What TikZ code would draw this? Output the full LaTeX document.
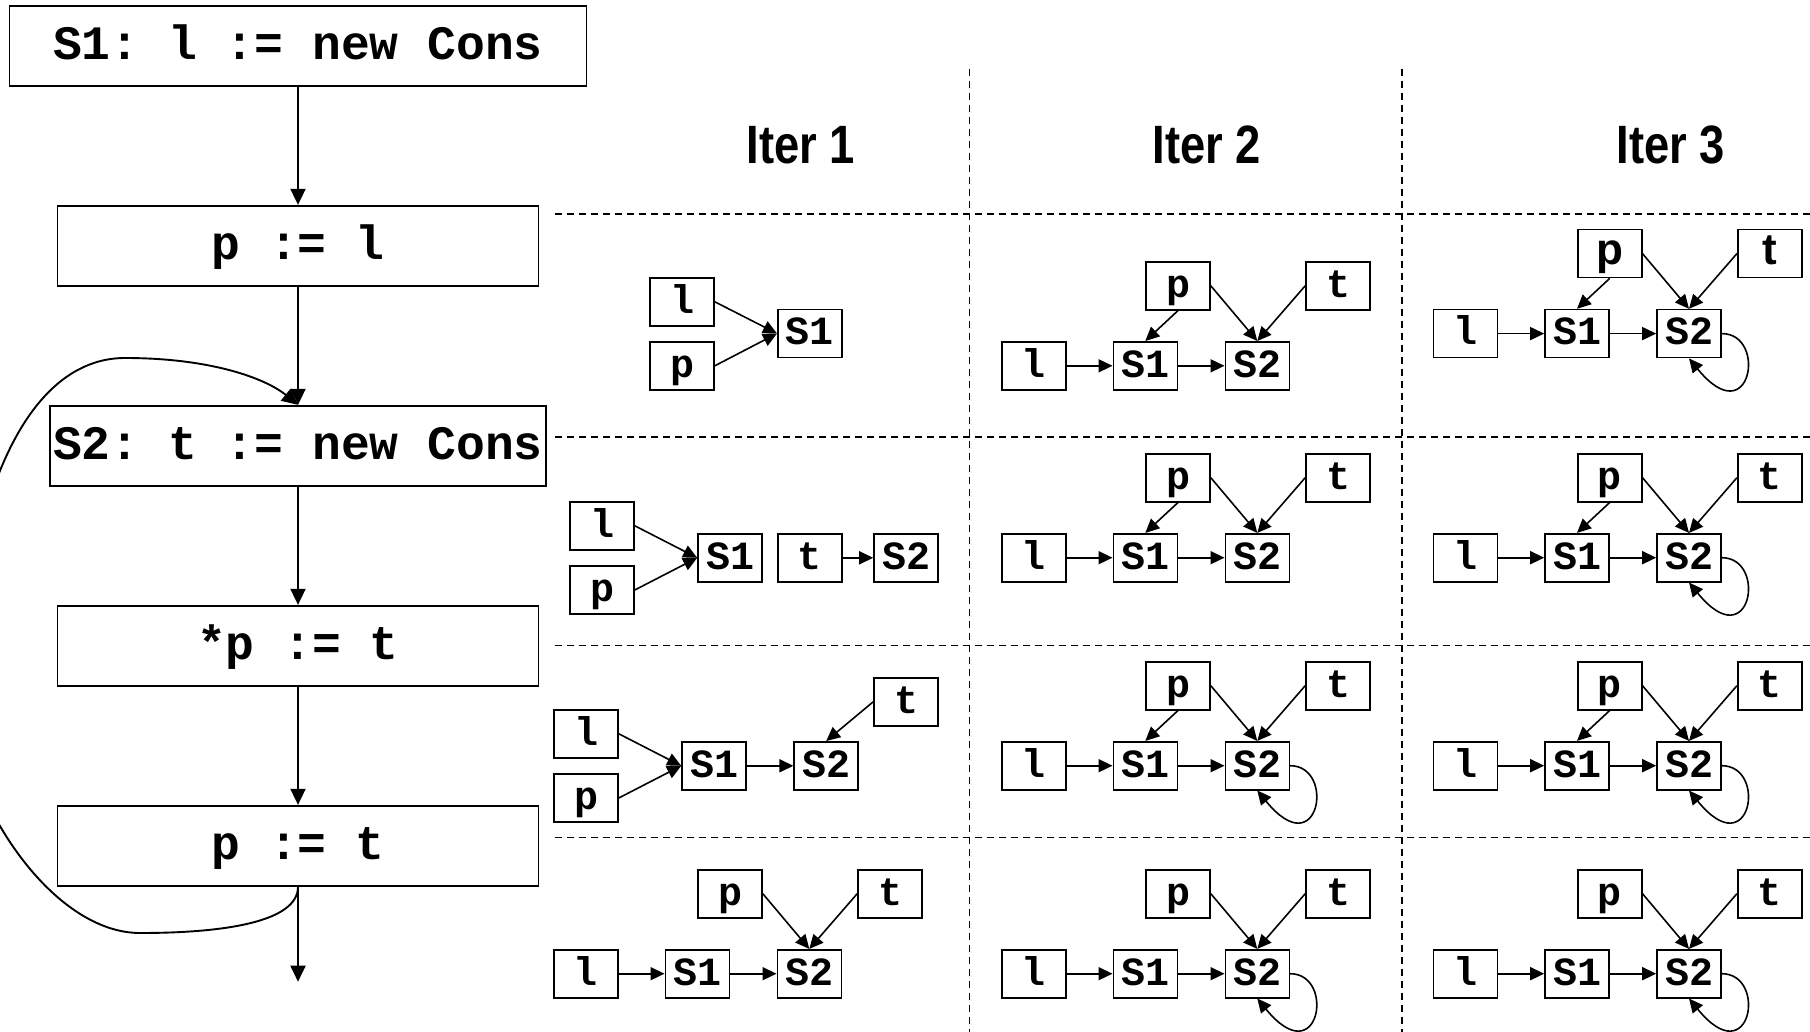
\documentclass[tikz,border=0pt]{standalone}
\usepackage{fontspec}
\setmonofont{Liberation Mono}
\newfontfamily\hdrfont[FakeStretch=0.84]{Liberation Sans}
\newfontfamily\helvb{Liberation Sans}
\usetikzlibrary{arrows.meta,calc}
\newcommand\psans{\fontsize{44}{44}\selectfont\helvb\bfseries}
\tikzset{
  mainbox/.style={draw, line width=1.9pt, inner sep=0pt, minimum height=80pt,
    text height=30pt, text depth=3pt, font=\fontsize{48}{48}\selectfont\ttfamily\bfseries},
  sbox/.style={draw, line width=1.6pt, inner sep=0pt, minimum width=64pt, minimum height=48pt,
    text height=25pt, text depth=2.4pt, font=\fontsize{40}{40}\selectfont\ttfamily\bfseries},
  marr/.style={line width=1.9pt, -{Triangle[length=16pt,width=15pt]}},
  sarr/.style={line width=1.6pt, -{Triangle[length=14pt,width=13pt]}},
  gridline/.style={line width=1.5pt, dash pattern=on 7pt off 5pt},
  hdr/.style={font=\fontsize{54}{54}\selectfont\hdrfont\bfseries, anchor=base, inner sep=0pt},
}
\newcommand\basepanel[4]{%
  \node[sbox] (#1l) at (#2,#3) {l};
  \node[sbox] (#1a) at (#2+111.5,#3) {S1};
  \node[sbox] (#1b) at (#2+223.5,#3) {S2};
  \node[sbox] (#1p) at (#2+144.2,#3-80) {#4p};
  \node[sbox] (#1t) at (#2+304.2,#3-80) {#4t};
  \draw[sarr] (#1l) -- (#1a);
  \draw[sarr] (#1a) -- (#1b);
  \draw[sarr] (#1p.east) -- (#1b.north);
  \draw[sarr] (#1t.west) -- (#1b.north);
}
\newcommand\pone[1]{\draw[sarr] (#1p.south) -- (#1a.north);}
\newcommand\selfloop[1]{\draw[sarr] (#1b.east) .. controls +(46,0) and +(62,76) .. (#1b.south);}
\begin{document}
\begin{tikzpicture}[x=1pt,y=-1pt]
\useasboundingbox (0,0) rectangle (1810,1032);
\fill[white] (0,0) rectangle (1810,1032);
\clip (0,0) rectangle (1810,1032);

% grid
\coordinate (v1t) at (969.5,69);
\coordinate (v1b) at (969.5,1032);
\coordinate (v2t) at (1402,69);
\coordinate (v2b) at (1402,1032);
\draw[gridline] (v1t) -- (v1b);
\draw[gridline] (v2t) -- (v2b);
\foreach \yy [count=\i] in {214,437,645.7,837.5}{
  \coordinate (hl\i) at (555,\yy);
  \coordinate (hr\i) at (1810,\yy);
  \draw[gridline] (hl\i) -- (hr\i);
}

% headers
\node[hdr] (h1) at (801,164) {Iter 1};
\node[hdr] (h2) at (1207,164) {Iter 2};
\node[hdr] (h3) at (1671,164) {Iter 3};

% flow chart
\node[mainbox, minimum width=577pt] (s1) at (298,45.8) {S1: l := new Cons};
\node[mainbox, minimum width=481pt] (pl) at (298,245.8) {p := l};
\node[mainbox, minimum width=496pt] (s2) at (298,445.8) {S2: t := new Cons};
\node[mainbox, minimum width=481pt] (pt1) at (298,645.8) {*p := t};
\node[mainbox, minimum width=481pt] (pt2) at (298,845.8) {p := t};
\coordinate (exit) at (298,981.7);
\draw[marr] (s1) -- (pl);
\draw[marr] (pl) -- (s2);
\draw[marr] (s2) -- (pt1);
\draw[marr] (pt1) -- (pt2);
\draw[marr] (pt2) -- (exit);
\draw[marr] (pt2.south) .. controls +(0,35) and (225,933) .. (140,933)
  .. controls (70,933) and (0,850) .. (-30,760)
  .. controls (-55,620) and (-10,358) .. (125,358)
  .. controls (210,358) and (265,378) .. (s2.north);

% Iter 1
\node[sbox] (a1l) at (682,301.8) {l};
\node[sbox] (a1p) at (682,365.8) {p};
\node[sbox] (a1s) at (809.8,333.5) {S1};
\draw[sarr] (a1l.east) -- (a1s.west);
\draw[sarr] (a1p.east) -- (a1s.west);

\node[sbox] (a2l) at (602,525.8) {l};
\node[sbox] (a2p) at (602,590) {p};
\node[sbox] (a2a) at (730,557.8) {S1};
\node[sbox] (a2t) at (809.8,557.8) {t};
\node[sbox] (a2b) at (906,557.8) {S2};
\draw[sarr] (a2l.east) -- (a2a.west);
\draw[sarr] (a2p.east) -- (a2a.west);
\draw[sarr] (a2t) -- (a2b);

\node[sbox] (a3l) at (586,733.8) {l};
\node[sbox] (a3p) at (586,798) {p};
\node[sbox] (a3a) at (714,765.8) {S1};
\node[sbox] (a3b) at (826.2,765.8) {S2};
\node[sbox] (a3t) at (906,701.8) {t};
\draw[sarr] (a3l.east) -- (a3a.west);
\draw[sarr] (a3p.east) -- (a3a.west);
\draw[sarr] (a3a) -- (a3b);
\draw[sarr] (a3t.west) -- (a3b.north);

\basepanel{a4}{585.8}{973.7}{}

% Iter 2
\basepanel{b1}{1033.8}{365.8}{}\pone{b1}
\basepanel{b2}{1033.8}{557.7}{}\pone{b2}
\basepanel{b3}{1033.8}{765.7}{}\pone{b3}\selfloop{b3}
\basepanel{b4}{1033.8}{973.7}{}\selfloop{b4}

% Iter 3
\basepanel{c1}{1465.5}{333.6}{\psans}\pone{c1}\selfloop{c1}
\basepanel{c2}{1465.5}{557.7}{}\pone{c2}\selfloop{c2}
\basepanel{c3}{1465.5}{765.7}{}\pone{c3}\selfloop{c3}
\basepanel{c4}{1465.5}{973.7}{}\selfloop{c4}
\end{tikzpicture}
\end{document}
